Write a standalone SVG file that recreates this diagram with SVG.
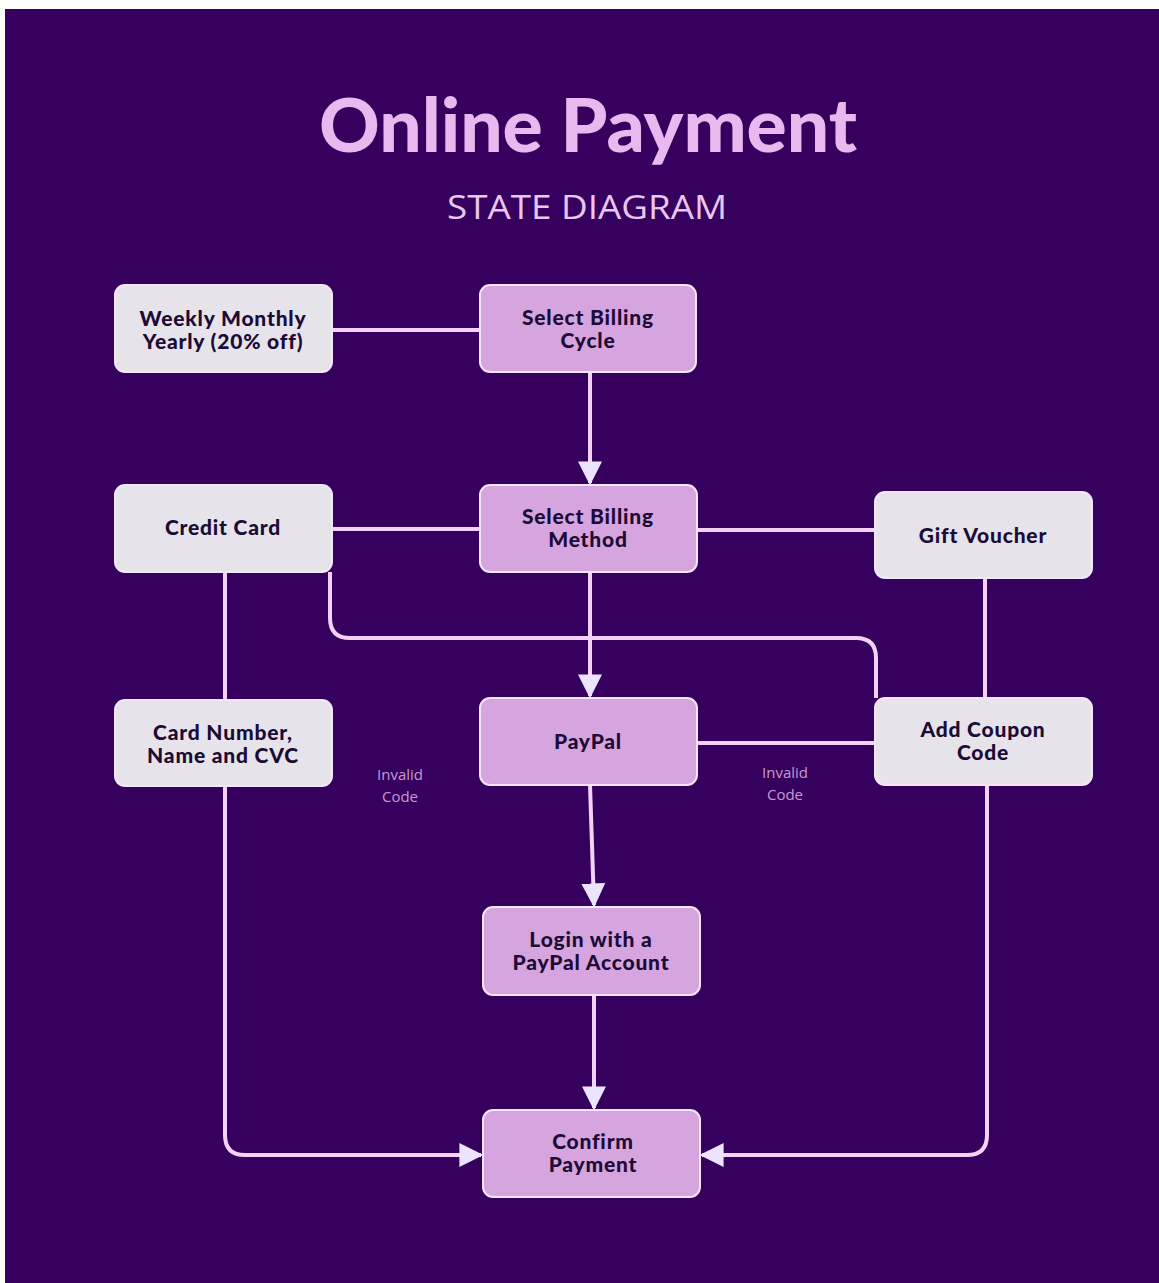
<svg xmlns="http://www.w3.org/2000/svg" width="1159" height="1283" viewBox="0 0 1159 1283">
<style>
.node{stroke:#f3e6fa;stroke-width:2}
.pink{fill:#d6a4df}
.grey{fill:#e6e4ea}
.lbl{font-family:Lato,"Noto Sans",sans-serif;font-weight:900;font-size:21px;letter-spacing:0.8px;fill:#1c0b36;text-anchor:middle}
.conn{fill:none;stroke:#f2d2f6;stroke-width:4}
.inv{font-family:"Open Sans","Liberation Sans",sans-serif;font-size:15px;fill:#c79ad2;text-anchor:middle}
</style>
<defs>
<marker id="arr" viewBox="0 0 10 10" refX="9" refY="5" markerWidth="6" markerHeight="6" markerUnits="strokeWidth" orient="auto">
<path d="M0,0 L10,5 L0,10 z" fill="#ece4ff"/>
</marker>
</defs>
<rect x="0" y="0" width="1159" height="1283" fill="#ffffff"/>
<rect x="5" y="9" width="1154" height="1274" fill="#36005e"/>
<g id="title">
<text x="588" y="152" font-family="Lato,'Noto Sans',sans-serif" font-weight="900" font-size="74" fill="#e7b9ee" text-anchor="middle" textLength="538" lengthAdjust="spacingAndGlyphs">Online Payment</text>
<text x="587" y="219" font-family="'Open Sans','Noto Sans',sans-serif" font-size="33" fill="#e9c6f0" text-anchor="middle" textLength="280" lengthAdjust="spacingAndGlyphs">STATE DIAGRAM</text>
</g>
<g id="connectors">
<line class="conn" x1="332" y1="330" x2="480" y2="330"/>
<line class="conn" x1="590" y1="372" x2="590" y2="483" marker-end="url(#arr)"/>
<line class="conn" x1="332" y1="529" x2="480" y2="529"/>
<line class="conn" x1="697" y1="530" x2="875" y2="530"/>
<line class="conn" x1="590" y1="572" x2="590" y2="696" marker-end="url(#arr)"/>
<path class="conn" d="M330,572 L330,618 Q330,638 350,638 L856,638 Q876,638 876,658 L876,698"/>
<line class="conn" x1="225" y1="572" x2="225" y2="700"/>
<line class="conn" x1="985" y1="578" x2="985" y2="698"/>
<line class="conn" x1="697" y1="743" x2="875" y2="743"/>
<path class="conn" d="M225,786 L225,1135 Q225,1155 245,1155 L481,1155" marker-end="url(#arr)"/>
<path class="conn" d="M987,786 L987,1135 Q987,1155 967,1155 L702,1155" marker-end="url(#arr)"/>
<line class="conn" x1="590" y1="785" x2="594" y2="905" marker-end="url(#arr)"/>
<line class="conn" x1="594" y1="995" x2="594" y2="1108" marker-end="url(#arr)"/>
</g>
<g id="label-invalid-1"><text class="inv" x="400" y="780">Invalid</text><text class="inv" x="400" y="802">Code</text></g>
<g id="label-invalid-2"><text class="inv" x="785" y="778">Invalid</text><text class="inv" x="785" y="800">Code</text></g>
<g id="n-weekly"><rect class="node grey" x="115" y="285" width="217" height="87" rx="10"/><text class="lbl" x="223" y="326">Weekly Monthly</text><text class="lbl" x="223" y="349">Yearly (20% off)</text></g>
<g id="n-cycle"><rect class="node pink" x="480" y="285" width="216" height="87" rx="10"/><text class="lbl" x="588" y="325">Select Billing</text><text class="lbl" x="588" y="348">Cycle</text></g>
<g id="n-credit"><rect class="node grey" x="115" y="485" width="217" height="87" rx="10"/><text class="lbl" x="223" y="535">Credit Card</text></g>
<g id="n-method"><rect class="node pink" x="480" y="485" width="217" height="87" rx="10"/><text class="lbl" x="588" y="524">Select Billing</text><text class="lbl" x="588" y="547">Method</text></g>
<g id="n-gift"><rect class="node grey" x="875" y="492" width="217" height="86" rx="10"/><text class="lbl" x="983" y="543">Gift Voucher</text></g>
<g id="n-card"><rect class="node grey" x="115" y="700" width="217" height="86" rx="10"/><text class="lbl" x="223" y="740">Card Number,</text><text class="lbl" x="223" y="763">Name and CVC</text></g>
<g id="n-paypal"><rect class="node pink" x="480" y="698" width="217" height="87" rx="10"/><text class="lbl" x="588" y="749">PayPal</text></g>
<g id="n-coupon"><rect class="node grey" x="875" y="698" width="217" height="87" rx="10"/><text class="lbl" x="983" y="737">Add Coupon</text><text class="lbl" x="983" y="760">Code</text></g>
<g id="n-login"><rect class="node pink" x="483" y="907" width="217" height="88" rx="10"/><text class="lbl" x="591" y="947">Login with a</text><text class="lbl" x="591" y="970">PayPal Account</text></g>
<g id="n-confirm"><rect class="node pink" x="483" y="1110" width="217" height="87" rx="10"/><text class="lbl" x="593" y="1149">Confirm</text><text class="lbl" x="593" y="1172">Payment</text></g>
</svg>
